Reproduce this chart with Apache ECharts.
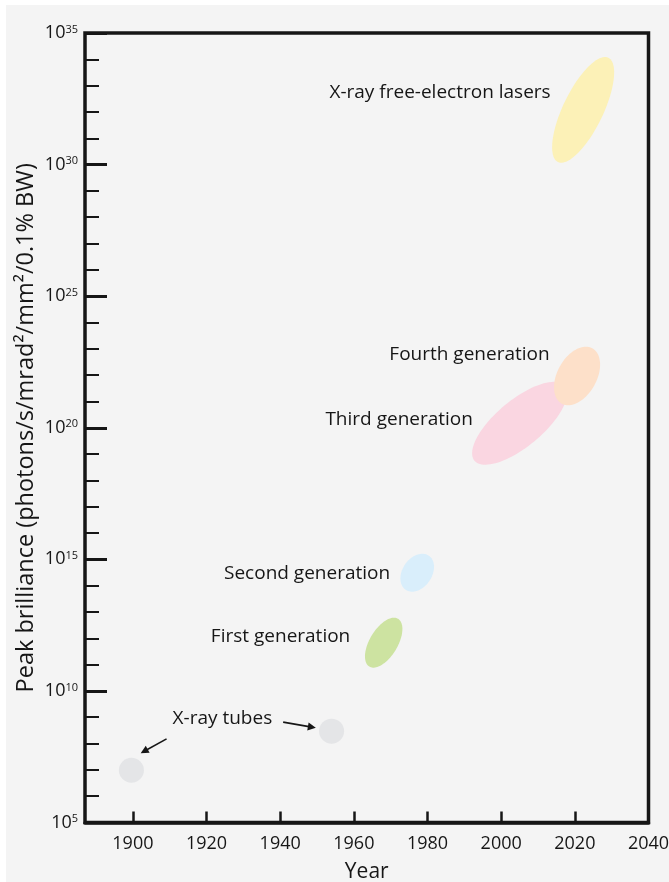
<!DOCTYPE html>
<html>
<head>
<meta charset="utf-8">
<script src="https://cdn.jsdelivr.net/npm/echarts@6/dist/echarts.min.js"></script>
<style>
html,body{margin:0;padding:0;background:#fff;overflow:hidden;}
#chart{width:669px;height:882px;}
</style>
</head>
<body>
<div id="chart"></div>
<script>
// ---- data ----
const xTickYears = [1900, 1920, 1940, 1960, 1980, 2000, 2020, 2040];
const sourceNames = ['First generation', 'Second generation', 'Third generation', 'Fourth generation', 'X-ray free-electron lasers'];
const centerYears = [1968.1, 1977.2, 2005.0, 2020.6, 2022.25];
const centerValues = [6.8e11, 3.1e14, 1.48e20, 9.3e21, 1.2e32];
const majorTipYears = [1972.0, 1980.35, 2017.25, 2024.75, 2029.1];
const majorTipValues = [5.5e12, 1.38e15, 3.9e21, 1.05e23, 1.15e34];
const minorTipYears = [1971.35, 1980.5, 2009.05, 2025.3, 2027.15];
const minorTipValues = [3.6e11, 1.5e14, 3.1e19, 4.1e21, 5.6e31];
const tubeYears = [1899.6, 1953.95];
const tubeValues = [9.7e6, 2.95e8];
const labelTexts = ['X-ray tubes', 'First generation', 'Second generation', 'Third generation', 'Fourth generation', 'X-ray free-electron lasers'];
const labelYears = [1924.3, 1940.1, 1947.3, 1972.3, 1991.4, 1983.4];
const labelValues = [8.9e8, 1.15e12, 2.85e14, 2.0e20, 5.9e22, 5.4e32];
const arrowFrom = [[1909.15, 1.5e8], [1940.8, 6.5e8]];
const arrowTo = [[1903.07, 5.1e7], [1948.6, 4.2e8]];

// ---- styles ----
const FONT = '"Open Sans", "Noto Sans", sans-serif';
const INK = '#161616';
const sourceColors = ['#cde3a1', '#d9eefb', '#fad6e1', '#fde0c9', '#fcf1b7'];

const ellipseData = sourceNames.map((n, i) => ({
  name: n,
  value: [centerYears[i], centerValues[i], majorTipYears[i], majorTipValues[i], minorTipYears[i], minorTipValues[i]],
  itemStyle: { color: sourceColors[i] }
}));

const chart = echarts.init(document.getElementById('chart'), null, { renderer: 'canvas' });

const yBase = {
  type: 'log',
  logBase: 10,
  min: 1e5,
  max: 1e35,
  position: 'left',
  offset: 0,
  splitLine: { show: false },
  axisLine: { show: false }
};

const option = {
  backgroundColor: '#f4f4f4',
  animation: false,
  graphic: [
    { type: 'rect', left: 0, top: 0, shape: { width: 669, height: 5 }, style: { fill: '#ffffff' }, silent: true },
    { type: 'rect', left: 0, top: 0, shape: { width: 6, height: 882 }, style: { fill: '#ffffff' }, silent: true }
  ],
  grid: {
    left: 85, right: 20.5, top: 33, bottom: 59.5,
    containLabel: false,
    outerBoundsMode: 'none',
    show: true, borderColor: INK, borderWidth: 3.5, backgroundColor: 'transparent'
  },
  xAxis: {
    type: 'value',
    min: 1887,
    max: 2040,
    splitLine: { show: false },
    axisLine: { show: true, onZero: false, lineStyle: { color: INK, width: 3.5 } },
    axisTick: { show: true, inside: true, length: 11, customValues: xTickYears.slice(0, -1), lineStyle: { color: INK, width: 2.5 } },
    axisLabel: {
      customValues: xTickYears, margin: 12, fontSize: 18, color: INK, fontFamily: FONT,
      formatter: function (v) { return String(Math.round(v)); }
    },
    name: 'Year',
    nameLocation: 'middle',
    nameGap: 39,
    nameMoveOverlap: false,
    nameTextStyle: { fontSize: 21, color: INK, fontFamily: FONT }
  },
  yAxis: [
    Object.assign({}, yBase, {
      interval: 1,
      axisTick: { show: true, inside: true, length: 14, lineStyle: { color: INK, width: 2 } },
      axisLabel: { show: false }
    }),
    Object.assign({}, yBase, {
      interval: 5,
      axisTick: { show: true, inside: true, length: 22, lineStyle: { color: INK, width: 3 } },
      axisLabel: {
        show: true,
        margin: 7,
        formatter: function (v) {
          const e = Math.round(Math.log10(v));
          return '{b|10}{s|' + e + '}';
        },
        rich: {
          b: { fontSize: 18, lineHeight: 18, color: INK, fontFamily: FONT },
          s: { fontSize: 11, lineHeight: 11, verticalAlign: 'top', color: INK, fontFamily: FONT }
        }
      },
      name: 'Peak brilliance (photons/s/mrad\u00b2/mm\u00b2/0.1% BW)',
      nameLocation: 'middle',
      nameGap: 47,
      nameMoveOverlap: false,
      nameTextStyle: { fontSize: 23.5, color: INK, fontFamily: FONT }
    })
  ],
  series: [
    {
      type: 'custom',
      name: 'sources',
      xAxisIndex: 0,
      yAxisIndex: 0,
      encode: { x: [0, 2, 4], y: [1, 3, 5] },
      data: ellipseData,
      renderItem: function (params, api) {
        const c = api.coord([api.value(0), api.value(1)]);
        const m = api.coord([api.value(2), api.value(3)]);
        const n = api.coord([api.value(4), api.value(5)]);
        const ux = m[0] - c[0], uy = m[1] - c[1];
        const a = Math.hypot(ux, uy);
        const b = Math.hypot(n[0] - c[0], n[1] - c[1]);
        const ex = ux / a, ey = uy / a;
        const px = -ey, py = ex;
        const pts = [];
        for (let k = 0; k < 96; k++) {
          const t = k / 96 * Math.PI * 2;
          const ca = Math.cos(t) * a, sb = Math.sin(t) * b;
          pts.push([c[0] + ca * ex + sb * px, c[1] + ca * ey + sb * py]);
        }
        return {
          type: 'polygon',
          shape: { points: pts },
          style: { fill: api.visual('color') }
        };
      }
    },
    {
      type: 'scatter',
      name: 'X-ray tubes',
      data: tubeYears.map((y, i) => [y, tubeValues[i]]),
      symbol: 'circle',
      symbolSize: 25,
      itemStyle: { color: '#e0e1e3' },
      silent: true
    },
    {
      type: 'lines',
      coordinateSystem: 'cartesian2d',
      data: arrowFrom.map((f, i) => ({ coords: [f, arrowTo[i]] })),
      symbol: ['none', 'triangle'],
      symbolSize: [0, 8],
      lineStyle: { color: INK, width: 1.6, opacity: 1 },
      itemStyle: { color: INK },
      silent: true
    },
    {
      type: 'custom',
      name: 'labels',
      encode: { x: 0, y: 1 },
      data: labelTexts.map((t, i) => [labelYears[i], labelValues[i], i]),
      renderItem: function (params, api) {
        const p = api.coord([api.value(0), api.value(1)]);
        return {
          type: 'text',
          x: p[0], y: p[1],
          style: {
            text: labelTexts[api.value(2)],
            align: 'center', verticalAlign: 'middle',
            fontSize: 19, fontFamily: FONT, fill: INK
          }
        };
      }
    }
  ]
};
chart.setOption(option);
</script>
</body>
</html>
